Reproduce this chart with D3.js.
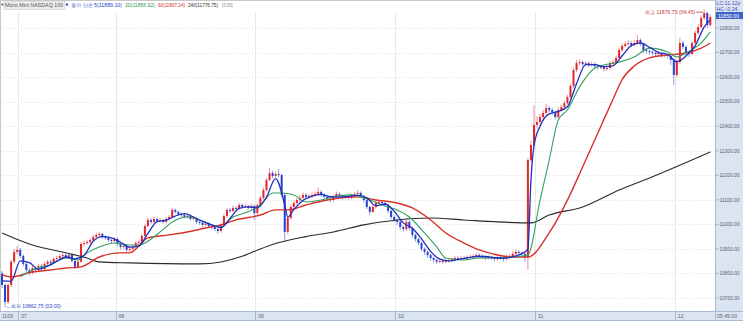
<!DOCTYPE html>
<html><head><meta charset="utf-8">
<script src="https://cdn.jsdelivr.net/npm/d3@7"></script>
<style>html,body{margin:0;padding:0;background:#fff;}svg{display:block;font-family:"Liberation Sans",Arial,sans-serif;}</style>
</head><body><svg id="c" width="743" height="321"></svg>
<script>
// ---- data ----
const opens=[10800,10753,10684,10753,10848,10888,10896,10871,10839,10814,
10802,10822,10814,10831,10818,10839,10848,10843,10859,10863,
10871,10875,10867,10875,10851,10827,10848,10920,10924,10928,
10936,10949,10957,10961,10949,10945,10936,10932,10940,10920,
10908,10912,10896,10900,10908,10924,10928,10953,10993,11018,
11010,11022,11014,11018,11010,11022,11030,11059,11051,11042,
11038,11030,11034,11022,11026,11010,11006,10998,11002,10993,
10989,10981,10973,10998,11034,11059,11055,11067,11063,11079,
11071,11075,11067,11075,11046,11079,11108,11140,11181,11209,
11197,11205,11201,11120,10969,11026,11071,11087,11099,11108,
11120,11112,11116,11120,11124,11132,11120,11112,11104,11099,
11112,11124,11116,11108,11112,11108,11116,11124,11128,11116,
11099,11071,11051,11071,11087,11091,11087,11079,11055,11030,
11018,11010,10989,10981,11010,10985,10957,10940,10924,10900,
10888,10875,10863,10855,10848,10851,10848,10851,10855,10859,
10863,10859,10863,10863,10867,10867,10871,10875,10871,10867,
10863,10867,10863,10859,10867,10863,10859,10867,10871,10880,
10888,10884,10880,10867,11262,11323,11405,11417,11437,11454,
11474,11466,11458,11437,11466,11478,11494,11519,11564,11629,
11657,11661,11653,11657,11649,11653,11645,11641,11641,11633,
11637,11657,11661,11678,11710,11727,11735,11739,11731,11739,
11751,11735,11710,11706,11702,11698,11694,11698,11690,11690,
11686,11670,11609,11661,11739,11723,11698,11694,11739,11780,
11804,11841,11861,11812];
const closes=[10753,10684,10753,10848,10888,10896,10871,10839,10814,10802,
10822,10814,10831,10818,10839,10848,10843,10859,10863,10871,
10875,10867,10875,10851,10827,10848,10920,10924,10928,10936,
10949,10957,10961,10949,10945,10936,10932,10940,10920,10908,
10912,10896,10900,10908,10924,10928,10953,10993,11018,11010,
11022,11014,11018,11010,11022,11030,11059,11051,11042,11038,
11030,11034,11022,11026,11010,11006,10998,11002,10993,10989,
10981,10973,10998,11034,11059,11055,11067,11063,11079,11071,
11075,11067,11075,11046,11079,11108,11140,11181,11209,11197,
11205,11201,11120,10969,11026,11071,11087,11099,11108,11120,
11112,11116,11120,11124,11132,11120,11112,11104,11099,11112,
11124,11116,11108,11112,11108,11116,11124,11128,11116,11099,
11071,11051,11071,11087,11091,11087,11079,11055,11030,11018,
11010,10989,10981,11010,10985,10957,10940,10924,10900,10888,
10875,10863,10855,10848,10851,10848,10851,10855,10859,10863,
10859,10863,10863,10867,10867,10871,10875,10871,10867,10863,
10867,10863,10859,10867,10863,10859,10867,10871,10880,10888,
10884,10880,10867,11262,11323,11405,11417,11437,11454,11474,
11466,11458,11437,11466,11478,11494,11519,11564,11629,11657,
11661,11653,11657,11649,11653,11645,11641,11641,11633,11637,
11657,11661,11678,11710,11727,11735,11739,11731,11739,11751,
11735,11710,11706,11702,11698,11694,11698,11690,11690,11686,
11670,11609,11661,11739,11723,11698,11694,11739,11780,11804,
11841,11861,11812,11845];
const highs=[10810,10760,10760,10856,10900,10912,10904,10878,10846,10820,
10832,10830,10840,10838,10848,10856,10856,10866,10872,10880,
10884,10882,10884,10880,10856,10854,10928,10934,10938,10944,
10958,10966,10970,10966,10956,10950,10942,10948,10946,10926,
10920,10918,10910,10916,10932,10938,10960,11000,11028,11026,
11030,11028,11026,11024,11030,11038,11068,11064,11056,11048,
11044,11042,11040,11034,11030,11016,11012,11010,11008,11000,
10996,10986,11004,11042,11068,11066,11076,11074,11088,11084,
11084,11080,11084,11080,11086,11116,11150,11190,11230,11218,
11216,11226,11206,11126,11034,11080,11096,11108,11118,11130,
11126,11124,11130,11134,11150,11140,11126,11118,11110,11120,
11134,11130,11122,11120,11118,11124,11132,11140,11134,11120,
11104,11076,11080,11096,11100,11098,11092,11084,11060,11036,
11024,11016,10996,11024,11016,10990,10962,10946,10930,10906,
10894,10880,10868,10860,10860,10858,10860,10862,10866,10872,
10870,10870,10872,10874,10876,10878,10884,10882,10878,10872,
10874,10872,10868,10874,10872,10868,10876,10880,10890,10898,
10894,10890,10886,11270,11340,11486,11440,11450,11466,11490,
11482,11474,11464,11476,11488,11504,11528,11574,11640,11670,
11672,11668,11666,11662,11662,11660,11652,11650,11648,11646,
11666,11670,11688,11720,11738,11746,11750,11746,11750,11771,
11758,11740,11716,11712,11708,11704,11708,11704,11700,11696,
11692,11676,11672,11760,11748,11730,11706,11748,11790,11816,
11852,11876.75,11868,11856];
const lows=[10740,10662.75,10676,10745,10840,10878,10862,10830,10804,10792,
10796,10806,10808,10810,10812,10832,10836,10838,10852,10856,
10864,10860,10860,10844,10818,10820,10842,10912,10916,10920,
10930,10942,10950,10942,10936,10928,10924,10926,10912,10898,
10900,10886,10888,10894,10902,10916,10922,10946,10988,11002,
11004,11008,11008,11004,11004,11016,11026,11044,11036,11030,
11024,11024,11016,11016,11002,10998,10990,10992,10986,10980,
10974,10962,10966,10992,11028,11048,11050,11056,11058,11064,
11066,11060,11060,11018,11040,11072,11100,11134,11176,11188,
11190,11192,11110,10930,10960,11018,11064,11080,11092,11100,
11104,11106,11108,11114,11118,11112,11104,11096,11090,11092,
11106,11108,11100,11102,11100,11102,11110,11118,11108,11090,
11062,11040,11046,11064,11080,11078,11070,11046,11020,11008,
10998,10978,10970,10974,10976,10946,10930,10914,10890,10876,
10864,10852,10844,10838,10842,10840,10842,10844,10848,10852,
10852,10852,10856,10856,10860,10860,10864,10864,10860,10854,
10856,10856,10850,10852,10856,10848,10852,10862,10866,10874,
10876,10872,10848,10814,11254,11316,11390,11408,11428,11446,
11456,11448,11428,11430,11460,11470,11488,11512,11556,11620,
11648,11644,11646,11640,11642,11636,11632,11632,11624,11626,
11630,11650,11654,11672,11702,11720,11728,11722,11724,11732,
11726,11700,11696,11692,11688,11686,11686,11680,11680,11676,
11650,11568,11600,11654,11712,11686,11682,11688,11732,11772,
11796,11832,11800,11804];
const ma5Idx=[0,3,6,9,12,15,18,21,24,27,30,33,36,39,42,45,48,51,54,57,60,63,66,69,72,75,78,81,84,87,90,93,94,96,99,102,105,108,111,114,117,120,123,126,129,132,135,138,141,144,147,150,153,156,159,162,165,168,171,173,174,175,177,180,183,186,189,192,195,198,201,204,207,210,213,216,219,222,225,228,231,233];
const ma5Val=[10770,10768,10851,10844,10817,10830,10850,10867,10859,10874,10931,10950,10945,10927,10907,10911,10963,11011,11017,11034,11044,11030,11012,10998,10987,11024,11065,11071,11068,11111,11186,11080,11030,11060,11097,11115,11122,11113,11111,11114,11118,11108,11076,11083,11054,11006,10984,10941,10890,10858,10851,10857,10863,10869,10869,10864,10862,10868,10881,10900,11180,11320,11400,11450,11460,11479,11573,11651,11651,11643,11646,11687,11728,11739,11721,11700,11692,11663,11686,11727,11805,11833];
const ma20Idx=[6,10,16,21,25,28,32,37,42,45,52,56,61,65,69,72,76,81,85,89,92,96,100,105,109,115,121,127,130,134,139,143,146,152,157,163,168,173,177,180,183,186,190,195,198,203,208,213,219,222,225,230,233];
const ma20Val=[10786,10814,10835,10863,10855,10884,10908,10924,10916,10916,10969,11010,11030,11018,10998,10989,11030,11051,11079,11128,11128,11120,11091,11099,11112,11120,11099,11071,11059,11030,10965,10908,10863,10855,10863,10863,10867,10875,11099,11262,11425,11466,11560,11637,11649,11661,11682,11718,11702,11682,11698,11739,11784];
const ma60Idx=[0,3,10,16,21,26,32,39,42,48,55,61,67,72,77,85,90,94,100,107,117,123,130,135,141,146,152,157,163,168,173,180,186,191,197,201,204,208,213,219,225,230,233];
const ma60Val=[10794,10786,10806,10814,10822,10827,10867,10884,10884,10945,10957,10969,10985,10998,11018,11038,11059,11059,11079,11099,11112,11099,11087,11067,11018,10965,10924,10896,10875,10867,10867,10965,11099,11234,11400,11510,11590,11645,11678,11690,11698,11718,11739];
const ma240Idx=[0,10,21,28,32,42,65,72,79,85,89,100,109,119,130,141,152,163,174,180,191,203,213,233];
const ma240Val=[10965,10916,10884,10863,10847,10843,10839,10847,10870,10900,10918,10950,10969,10998,11018,11026,11018,11010,11006,11038,11071,11140,11189,11295];
const yTicks=[10700,10800,10900,11000,11100,11200,11300,11400,11500,11600,11700,11800];
const dayIdx=[6,38,84,130,176,222];
const dayLabels=["07","08","09","10","11","12"];
const firstLabel="11/05";
const lastTime="05:45:00";
const legendItems=[
 {t:"종가 단순 5(11889.10)",c:"#2a3fc8",x:71,w:51},
 {t:"20(11856.92)",c:"#2f9a5b",x:125,w:30},
 {t:"60(11807.24)",c:"#d0302a",x:158,w:27},
 {t:"240(11776.75)",c:"#333333",x:188,w:30},
 {t:"(0.00)",c:"#888888",x:222,w:11}];
const hiIdx=231, loIdx=1;

// ---- drawing ----
const svg=d3.select('#c');
const PR=715, PB=311;
const x=d3.scaleLinear().domain([0,233]).range([2,710.3]);
const y=d3.scaleLinear().domain([10700,11800]).range([298,28]);

svg.append('rect').attr('x',0).attr('y',0).attr('width',743).attr('height',321).attr('fill','#fff');
// grid
const g=svg.append('g');
g.selectAll('line.h').data(yTicks).join('line').attr('x1',0).attr('x2',PR)
 .attr('y1',d=>Math.round(y(d))+0.5).attr('y2',d=>Math.round(y(d))+0.5)
 .attr('stroke','#e2e2e2').attr('stroke-dasharray','1,2');
g.selectAll('line.v').data(dayIdx).join('line')
 .attr('x1',d=>Math.round(x(d))-1.5).attr('x2',d=>Math.round(x(d))-1.5).attr('y1',12).attr('y2',PB)
 .attr('stroke','#e8e8e8');

const clip=svg.append('clipPath').attr('id','pc').append('rect').attr('x',0).attr('y',0).attr('width',PR).attr('height',PB);
const plot=svg.append('g').attr('clip-path','url(#pc)');
const idx=d3.range(closes.length);
const up=i=>closes[i]>=opens[i];
const UP='#e3262d', DN='#2443d0';
plot.selectAll('line.w').data(idx).join('line')
 .attr('x1',i=>x(i)).attr('x2',i=>x(i)).attr('y1',i=>y(highs[i])).attr('y2',i=>y(lows[i]))
 .attr('stroke',i=>up(i)?'#ef8f95':'#8d9ae0').attr('stroke-width',1);
plot.selectAll('rect.b').data(idx).join('rect')
 .attr('x',i=>x(i)-1).attr('width',2)
 .attr('y',i=>y(Math.max(opens[i],closes[i])))
 .attr('height',i=>Math.max(1,Math.abs(y(opens[i])-y(closes[i]))))
 .attr('fill',i=>up(i)?UP:DN);

function maLine(ix,vals,color,w){
  const pts=ix.map((d,k)=>[x(d),y(vals[k])]);
  plot.append('path').attr('d',d3.line().curve(d3.curveMonotoneX)(pts))
   .attr('fill','none').attr('stroke',color).attr('stroke-width',w);
}
maLine(ma240Idx,ma240Val,'#2b2b2b',1.1);
maLine(ma60Idx,ma60Val,'#d8322c',1.4);
maLine(ma20Idx,ma20Val,'#35a060',1.1);
maLine(ma5Idx,ma5Val,'#1f2fbf',1.3);

// high / low annotations
const hx=x(hiIdx), hy=y(highs[hiIdx]);
svg.append('line').attr('x1',hx-8).attr('x2',hx-1).attr('y1',hy+3).attr('y2',hy+3).attr('stroke','#c83a3a').attr('stroke-width',0.8);
svg.append('text').attr('x',hx-9).attr('y',hy+4.8).attr('text-anchor','end').attr('font-size',5.2).attr('fill','#c23b3b')
 .attr('textLength',50).attr('lengthAdjust','spacingAndGlyphs').text('최고 '+d3.format('.2f')(highs[hiIdx])+' (04:45)');
const lx=x(loIdx), ly=y(lows[loIdx]);
svg.append('text').attr('x',lx+1).attr('y',ly+0.5).attr('font-size',5.2).attr('fill','#2a3fc8')
 .attr('textLength',55).attr('lengthAdjust','spacingAndGlyphs').text('←최저 '+d3.format('.2f')(lows[loIdx])+' (03:00)');

// legend
svg.append('rect').attr('x',0.5).attr('y',0.5).attr('width',PR).attr('height',PB).attr('fill','none').attr('stroke','#c8c8c8');
svg.append('rect').attr('x',1.5).attr('y',3.5).attr('width',2).attr('height',2).attr('fill','#666');
svg.append('rect').attr('x',4).attr('y',1).attr('width',61).attr('height',8.5).attr('fill','#ececec').attr('stroke','#c9c9c9').attr('stroke-width',0.6);
svg.append('text').attr('x',5).attr('y',7.3).attr('font-size',5.2).attr('fill','#555')
 .attr('textLength',58).attr('lengthAdjust','spacingAndGlyphs').text('Micro Mini NASDAQ 100');
svg.append('rect').attr('x',66).attr('y',3.5).attr('width',2).attr('height',2).attr('fill','#2a3fc8');
legendItems.forEach(d=>{
  svg.append('text').attr('x',d.x).attr('y',7.3).attr('font-size',5.2).attr('fill',d.c)
   .attr('textLength',d.w).attr('lengthAdjust','spacingAndGlyphs').text(d.t);
});

// right axis panel
svg.append('rect').attr('x',PR).attr('y',0).attr('width',743-PR).attr('height',PB).attr('fill','#dbe4f1');
svg.append('line').attr('x1',PR+0.5).attr('x2',PR+0.5).attr('y1',0).attr('y2',PB).attr('stroke','#a8b9d2');
const ya=svg.append('g');
ya.selectAll('line').data(yTicks).join('line').attr('x1',PR+1).attr('x2',PR+4)
 .attr('y1',d=>y(d)).attr('y2',d=>y(d)).attr('stroke','#7f8fa8').attr('stroke-width',0.6);
ya.selectAll('text').data(yTicks).join('text').attr('x',PR+4.5).attr('y',d=>y(d)+1.8)
 .attr('font-size',5).attr('fill','#5a6270').attr('textLength',20).attr('lengthAdjust','spacingAndGlyphs')
 .text(d=>d3.format('.2f')(d));
svg.append('text').attr('x',PR+1.5).attr('y',5).attr('font-size',5.2).attr('fill','#5b4fc0')
 .attr('textLength',24).attr('lengthAdjust','spacingAndGlyphs').text('LC:11.12p');
svg.append('text').attr('x',PR+1.5).attr('y',10.5).attr('font-size',5.2).attr('fill','#3050c0')
 .attr('textLength',21).attr('lengthAdjust','spacingAndGlyphs').text('HC:-0.24');
const lastY=y(closes[closes.length-1]);
svg.append('rect').attr('x',PR+1).attr('y',12).attr('width',27).attr('height',7).attr('fill','#3d63c9');
svg.append('text').attr('x',PR+3).attr('y',17.5).attr('font-size',5).attr('fill','#fff')
 .attr('textLength',21).attr('lengthAdjust','spacingAndGlyphs').text('11850.00');

// bottom axis strip
svg.append('rect').attr('x',0).attr('y',PB).attr('width',743).attr('height',321-PB).attr('fill','#dbe4f1');
svg.append('line').attr('x1',0).attr('x2',743).attr('y1',PB+0.5).attr('y2',PB+0.5).attr('stroke','#a8b9d2');
svg.append('line').attr('x1',0).attr('x2',743).attr('y1',320.5).attr('y2',320.5).attr('stroke','#a8b9d2');
const xa=svg.append('g');
xa.selectAll('line').data(dayIdx).join('line').attr('x1',d=>Math.round(x(d))-1.5).attr('x2',d=>Math.round(x(d))-1.5)
 .attr('y1',PB).attr('y2',321).attr('stroke','#a8b9d2');
xa.selectAll('text').data(dayIdx).join('text').attr('x',d=>x(d)+1).attr('y',318)
 .attr('font-size',5).attr('fill','#5a6270').text((d,k)=>dayLabels[k]);
svg.append('text').attr('x',2).attr('y',318).attr('font-size',5).attr('fill','#5a6270')
 .attr('textLength',11).attr('lengthAdjust','spacingAndGlyphs').text(firstLabel);
svg.append('line').attr('x1',PR+0.5).attr('x2',PR+0.5).attr('y1',PB).attr('y2',321).attr('stroke','#a8b9d2');
svg.append('text').attr('x',PR+2).attr('y',318).attr('font-size',5).attr('fill','#5a6270')
 .attr('textLength',20).attr('lengthAdjust','spacingAndGlyphs').text(lastTime);
</script></body></html>
